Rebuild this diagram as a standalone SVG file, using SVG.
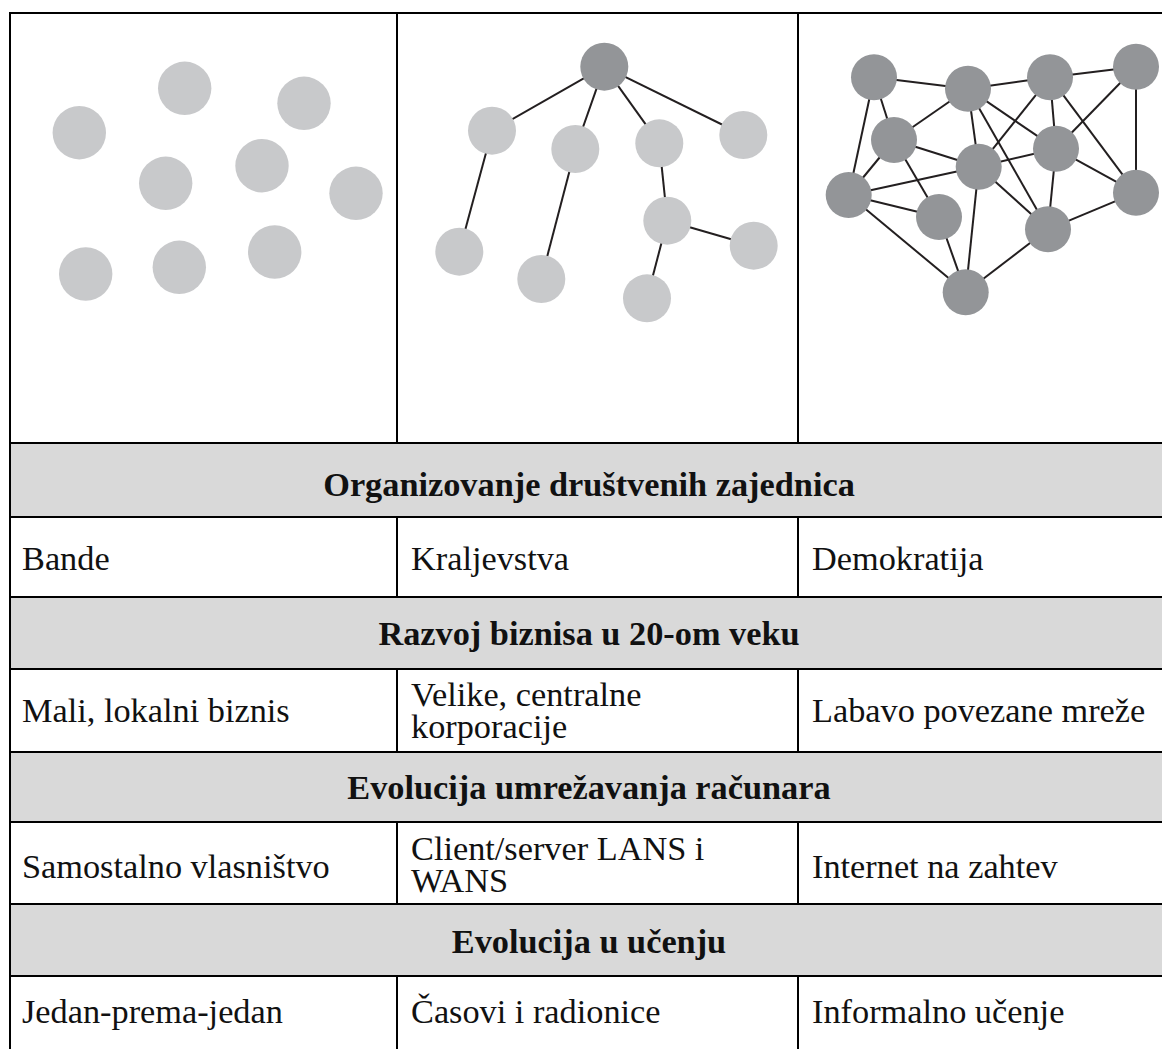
<svg xmlns="http://www.w3.org/2000/svg" width="1162" height="1049" viewBox="0 0 1162 1049">
<style>
  .lt { fill: #c8c9cb; }
  .dk { fill: #939598; }
  .edge { stroke: #231f20; stroke-width: 2; fill: none; }
  .grid { stroke: #000; stroke-width: 2; fill: none; }
  .hdr { fill: #d9d9d9; }
  .t { font-family: "Liberation Serif", "Times New Roman", serif; font-size: 34.3px; fill: #111; }
  .h { font-family: "Liberation Serif", "Times New Roman", serif; font-size: 34.3px; font-weight: bold; fill: #111; text-anchor: middle; }
</style>
<rect x="0" y="0" width="1162" height="1049" fill="#fff"/>
<g id="header-fills">
  <rect class="hdr" x="10" y="443" width="1160" height="74"/>
  <rect class="hdr" x="10" y="597" width="1160" height="72"/>
  <rect class="hdr" x="10" y="752" width="1160" height="70"/>
  <rect class="hdr" x="10" y="904" width="1160" height="72"/>
</g>
<g id="grid" class="grid">
  <line x1="10" y1="13" x2="1162" y2="13"/>
  <line x1="10" y1="12" x2="10" y2="1049"/>
  <line x1="10" y1="443" x2="1162" y2="443"/>
  <line x1="10" y1="517" x2="1162" y2="517"/>
  <line x1="10" y1="597" x2="1162" y2="597"/>
  <line x1="10" y1="669" x2="1162" y2="669"/>
  <line x1="10" y1="752" x2="1162" y2="752"/>
  <line x1="10" y1="822" x2="1162" y2="822"/>
  <line x1="10" y1="904" x2="1162" y2="904"/>
  <line x1="10" y1="976" x2="1162" y2="976"/>
  <line x1="397" y1="13" x2="397" y2="443"/>
  <line x1="798" y1="13" x2="798" y2="443"/>
  <line x1="397" y1="517" x2="397" y2="597"/>
  <line x1="798" y1="517" x2="798" y2="597"/>
  <line x1="397" y1="669" x2="397" y2="752"/>
  <line x1="798" y1="669" x2="798" y2="752"/>
  <line x1="397" y1="822" x2="397" y2="904"/>
  <line x1="798" y1="822" x2="798" y2="904"/>
  <line x1="397" y1="976" x2="397" y2="1049"/>
  <line x1="798" y1="976" x2="798" y2="1049"/>
</g>
<g id="panel1">
  <circle id="p1n1" class="lt" cx="79.3" cy="132.7" r="26.7"/>
  <circle id="p1n2" class="lt" cx="184.7" cy="88.3" r="26.7"/>
  <circle id="p1n3" class="lt" cx="304" cy="103.3" r="26.7"/>
  <circle id="p1n4" class="lt" cx="165.7" cy="183.3" r="26.7"/>
  <circle id="p1n5" class="lt" cx="262" cy="165.7" r="26.7"/>
  <circle id="p1n6" class="lt" cx="356" cy="193.3" r="26.7"/>
  <circle id="p1n7" class="lt" cx="85.7" cy="274" r="26.7"/>
  <circle id="p1n8" class="lt" cx="179.3" cy="267.3" r="26.7"/>
  <circle id="p1n9" class="lt" cx="274.7" cy="252" r="26.7"/>
</g>
<g id="connectors">
  <g id="panel2-edges" class="edge">
    <line x1="604.3" y1="66.7" x2="492" y2="130.7"/>
    <line x1="604.3" y1="66.7" x2="575.3" y2="149"/>
    <line x1="604.3" y1="66.7" x2="659.3" y2="143.3"/>
    <line x1="604.3" y1="66.7" x2="743.3" y2="135"/>
    <line x1="492" y1="130.7" x2="459.3" y2="251.7"/>
    <line x1="575.3" y1="149" x2="541.3" y2="279"/>
    <line x1="659.3" y1="143.3" x2="667.3" y2="220.7"/>
    <line x1="667.3" y1="220.7" x2="753.7" y2="245.7"/>
    <line x1="667.3" y1="220.7" x2="647" y2="298.3"/>
  </g>
  <g id="panel3-edges" class="edge">
    <line x1="874" y1="77.3" x2="968" y2="88.7"/>
    <line x1="968" y1="88.7" x2="1050" y2="77.3"/>
    <line x1="1050" y1="77.3" x2="1136" y2="66.7"/>
    <line x1="1136" y1="66.7" x2="1136" y2="192.7"/>
    <line x1="874" y1="77.3" x2="894" y2="140"/>
    <line x1="874" y1="77.3" x2="848.7" y2="195"/>
    <line x1="968" y1="88.7" x2="894" y2="140"/>
    <line x1="968" y1="88.7" x2="978.7" y2="166.7"/>
    <line x1="968" y1="88.7" x2="1056" y2="148.7"/>
    <line x1="968" y1="88.7" x2="1048" y2="229.3"/>
    <line x1="1050" y1="77.3" x2="978.7" y2="166.7"/>
    <line x1="1050" y1="77.3" x2="1056" y2="148.7"/>
    <line x1="1050" y1="77.3" x2="1136" y2="192.7"/>
    <line x1="1136" y1="66.7" x2="1056" y2="148.7"/>
    <line x1="894" y1="140" x2="978.7" y2="166.7"/>
    <line x1="894" y1="140" x2="848.7" y2="195"/>
    <line x1="894" y1="140" x2="939" y2="217"/>
    <line x1="848.7" y1="195" x2="978.7" y2="166.7"/>
    <line x1="978.7" y1="166.7" x2="1056" y2="148.7"/>
    <line x1="978.7" y1="166.7" x2="1048" y2="229.3"/>
    <line x1="978.7" y1="166.7" x2="965.7" y2="292.3"/>
    <line x1="1056" y1="148.7" x2="1048" y2="229.3"/>
    <line x1="1056" y1="148.7" x2="1136" y2="192.7"/>
    <line x1="848.7" y1="195" x2="939" y2="217"/>
    <line x1="848.7" y1="195" x2="965.7" y2="292.3"/>
    <line x1="939" y1="217" x2="965.7" y2="292.3"/>
    <line x1="1048" y1="229.3" x2="1136" y2="192.7"/>
    <line x1="1048" y1="229.3" x2="965.7" y2="292.3"/>
  </g>
</g>
<g id="panel2">
  <circle id="p2root" class="dk" cx="604.3" cy="66.7" r="24"/>
  <circle id="p2a" class="lt" cx="492" cy="130.7" r="24"/>
  <circle id="p2b" class="lt" cx="575.3" cy="149" r="24"/>
  <circle id="p2c" class="lt" cx="659.3" cy="143.3" r="24"/>
  <circle id="p2d" class="lt" cx="743.3" cy="135" r="24"/>
  <circle id="p2a1" class="lt" cx="459.3" cy="251.7" r="24"/>
  <circle id="p2b1" class="lt" cx="541.3" cy="279" r="24"/>
  <circle id="p2e" class="lt" cx="667.3" cy="220.7" r="24"/>
  <circle id="p2f" class="lt" cx="753.7" cy="245.7" r="24"/>
  <circle id="p2g" class="lt" cx="647" cy="298.3" r="24"/>
</g>
<g id="panel3">
  <circle id="p3n1" class="dk" cx="874" cy="77.3" r="23"/>
  <circle id="p3n2" class="dk" cx="968" cy="88.7" r="23"/>
  <circle id="p3n3" class="dk" cx="1050" cy="77.3" r="23"/>
  <circle id="p3n4" class="dk" cx="1136" cy="66.7" r="23"/>
  <circle id="p3n5" class="dk" cx="894" cy="140" r="23"/>
  <circle id="p3n6" class="dk" cx="978.7" cy="166.7" r="23"/>
  <circle id="p3n7" class="dk" cx="1056" cy="148.7" r="23"/>
  <circle id="p3n8" class="dk" cx="848.7" cy="195" r="23"/>
  <circle id="p3n9" class="dk" cx="939" cy="217" r="23"/>
  <circle id="p3n10" class="dk" cx="1048" cy="229.3" r="23"/>
  <circle id="p3n11" class="dk" cx="1136" cy="192.7" r="23"/>
  <circle id="p3n12" class="dk" cx="965.7" cy="292.3" r="23"/>
</g>
<g id="headers">
  <text class="h" x="589" y="496">Organizovanje društvenih zajednica</text>
  <text class="h" x="589" y="645">Razvoj biznisa u 20-om veku</text>
  <text class="h" x="589" y="799">Evolucija umrežavanja računara</text>
  <text class="h" x="589" y="953">Evolucija u učenju</text>
</g>
<g id="cells">
  <text class="t" x="22" y="570">Bande</text>
  <text class="t" x="411" y="570">Kraljevstva</text>
  <text class="t" x="812" y="570">Demokratija</text>
  <text class="t" x="22" y="722">Mali, lokalni biznis</text>
  <text class="t" x="411" y="706">Velike, centralne</text>
  <text class="t" x="411" y="738">korporacije</text>
  <text class="t" x="812" y="722">Labavo povezane mreže</text>
  <text class="t" x="22" y="878">Samostalno vlasništvo</text>
  <text class="t" x="411" y="860">Client/server LANS i</text>
  <text class="t" x="411" y="892">WANS</text>
  <text class="t" x="812" y="878">Internet na zahtev</text>
  <text class="t" x="22" y="1023">Jedan-prema-jedan</text>
  <text class="t" x="411" y="1023">Časovi i radionice</text>
  <text class="t" x="812" y="1023">Informalno učenje</text>
</g>
</svg>
